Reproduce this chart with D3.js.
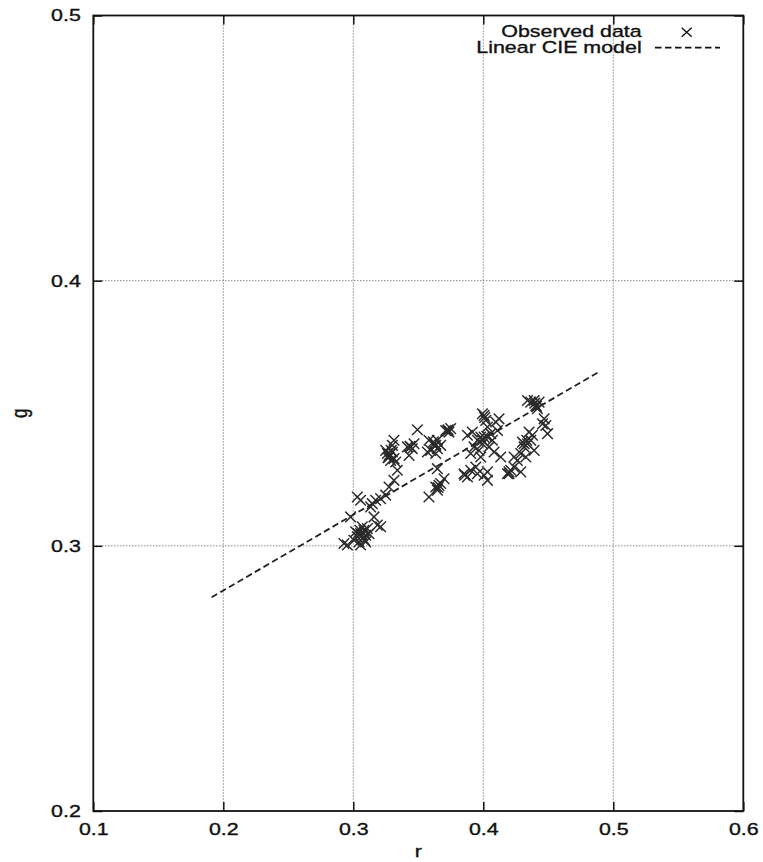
<!DOCTYPE html>
<html>
<head>
<meta charset="utf-8">
<script src="https://cdn.jsdelivr.net/npm/d3@7"></script>
<style>
  html, body { margin: 0; padding: 0; background: #fff; }
  svg { display: block; }
  text { font-family: "Liberation Sans", Arial, Helvetica, sans-serif; fill: #111; stroke: #111; stroke-width: 0.35px; }
</style>
</head>
<body>
<svg id="chart" width="763" height="862"></svg>
<script>
// ---- data ----
const xTicks = [0.1, 0.2, 0.3, 0.4, 0.5, 0.6];
const yTicks = [0.2, 0.3, 0.4, 0.5];
const xLabel = "r";
const yLabel = "g";
const legendLabels = ["Observed data", "Linear CIE model"];

const obsR = [
  0.2928, 0.2979, 0.3031, 0.3056, 0.3005, 0.3031, 0.3056, 0.3082, 0.3069, 0.3095,
  0.3044, 0.3108, 0.3018, 0.3077, 0.3056, 0.3159, 0.3185, 0.3210, 0.3133, 0.3172,
  0.3210, 0.3249, 0.3146, 0.2954, 0.3095, 0.3121,
  0.3275, 0.3313, 0.3339, 0.3326,
  0.3249, 0.3275, 0.3313, 0.3300, 0.3262, 0.3287, 0.3313, 0.3300, 0.3275,
  0.3429, 0.3416, 0.3454, 0.3467, 0.3441,
  0.3493,
  0.3582, 0.3621, 0.3647, 0.3672, 0.3570, 0.3595, 0.3634, 0.3647, 0.3634,
  0.3711, 0.3736, 0.3749, 0.3724,
  0.3647, 0.3634, 0.3672, 0.3698, 0.3582, 0.3647, 0.3659,
  0.3878, 0.3916, 0.3955, 0.3980, 0.4006, 0.4019, 0.4032, 0.4057, 0.4096, 0.4121,
  0.4109, 0.4070, 0.3929, 0.3967, 0.3993, 0.4044, 0.4083, 0.4134, 0.3903, 0.3980,
  0.4006, 0.3993,
  0.3852, 0.3878, 0.3903, 0.3955, 0.4006, 0.4032, 0.4032, 0.3942,
  0.4186, 0.4211, 0.4237, 0.4288, 0.4262, 0.4288, 0.4314, 0.4340, 0.4365, 0.4352,
  0.4378, 0.4391, 0.4327, 0.4237, 0.4301, 0.4198,
  0.4391, 0.4404, 0.4416, 0.4365, 0.4429, 0.4340,
  0.4468, 0.4481, 0.4494, 0.4455,
  0.3069, 0.3051, 0.3087, 0.3036,
  0.3282, 0.3267, 0.3292,
  0.3436,
  0.3626, 0.3616,
  0.3729,
  0.4011, 0.4027, 0.3993,
  0.4396, 0.4409,
  0.4314, 0.4334,
  0.4198,
  0.3857,
  0.3652
];
const obsG = [
  0.3009, 0.3109, 0.3184, 0.3172, 0.3021, 0.3034, 0.3046, 0.3059, 0.3072, 0.3040,
  0.3015, 0.3065, 0.3053, 0.3028, 0.3003, 0.3109, 0.3078, 0.3072, 0.3147, 0.3172,
  0.3178, 0.3191, 0.3159, 0.3003, 0.3015, 0.3046,
  0.3222, 0.3247, 0.3285, 0.3316,
  0.3360, 0.3335, 0.3329, 0.3354, 0.3348, 0.3322, 0.3398, 0.3379, 0.3341,
  0.3341, 0.3373, 0.3366, 0.3385, 0.3373,
  0.3438,
  0.3398, 0.3385, 0.3366, 0.3379, 0.3354, 0.3360, 0.3348, 0.3398, 0.3379,
  0.3435, 0.3429, 0.3442, 0.3433,
  0.3291, 0.3222, 0.3235, 0.3253, 0.3184, 0.3210, 0.3228,
  0.3417, 0.3429, 0.3398, 0.3410, 0.3492, 0.3473, 0.3448, 0.3423, 0.3467, 0.3479,
  0.3435, 0.3398, 0.3373, 0.3360, 0.3385, 0.3373, 0.3354, 0.3335, 0.3348, 0.3335,
  0.3410, 0.3498,
  0.3272, 0.3260, 0.3285, 0.3272, 0.3266, 0.3247, 0.3279, 0.3297,
  0.3272, 0.3285, 0.3297, 0.3279, 0.3322, 0.3348, 0.3373, 0.3385, 0.3398, 0.3429,
  0.3417, 0.3360, 0.3335, 0.3335, 0.3391, 0.3279,
  0.3548, 0.3529, 0.3517, 0.3542, 0.3542, 0.3548,
  0.3479, 0.3454, 0.3423, 0.3460,
  0.3040, 0.3059, 0.3021, 0.3046,
  0.3345, 0.3332, 0.3360,
  0.3375,
  0.3377, 0.3392,
  0.3438,
  0.3484, 0.3413, 0.3398,
  0.3538, 0.3526,
  0.3385, 0.3398,
  0.3272,
  0.3266,
  0.3220
];
const modelR = [0.191, 0.490];
const modelG = [0.2806, 0.3659];

// ---- layout ----
const svg = d3.select("#chart");
const pLeft = 93.3, pRight = 743.3, pTop = 15.5, pBottom = 811;
const x = d3.scaleLinear().domain([0.1, 0.6]).range([pLeft, pRight]);
const y = d3.scaleLinear().domain([0.2, 0.5]).range([pBottom, pTop]);
const fmt = d3.format(".1f");
const SX = 1.26; // horizontal stretch of the scanned lettering
const fontSize = 17;

// grid
const grid = svg.append("g").attr("stroke", "#555").attr("stroke-width", 1)
  .attr("stroke-dasharray", "1,2");
grid.selectAll("line.vx").data(xTicks.filter(d => d > 0.1 && d < 0.6)).join("line")
  .attr("x1", d => x(d)).attr("x2", d => x(d)).attr("y1", pTop).attr("y2", pBottom);
grid.selectAll("line.hy").data(yTicks.filter(d => d > 0.2 && d < 0.5)).join("line")
  .attr("y1", d => y(d)).attr("y2", d => y(d)).attr("x1", pLeft).attr("x2", pRight);

// axes (inward ticks)
const tick = 9;
const gx = svg.append("g").attr("transform", `translate(0,${pBottom})`)
  .call(d3.axisBottom(x).tickValues(xTicks).tickFormat(fmt).tickSize(-tick).tickPadding(12));
const gxt = svg.append("g").attr("transform", `translate(0,${pTop})`)
  .call(d3.axisTop(x).tickValues(xTicks).tickFormat("").tickSize(-tick));
const gy = svg.append("g").attr("transform", `translate(${pLeft},0)`)
  .call(d3.axisLeft(y).tickValues(yTicks).tickFormat(fmt).tickSize(-tick).tickPadding(12.5));
const gyr = svg.append("g").attr("transform", `translate(${pRight},0)`)
  .call(d3.axisRight(y).tickValues(yTicks).tickFormat("").tickSize(-tick));

[gx, gxt, gy, gyr].forEach(g => {
  g.select(".domain").remove();
  g.selectAll(".tick line").attr("stroke", "#111").attr("stroke-width", 1.5);
});
gx.selectAll(".tick text")
  .style("font-size", fontSize + "px").attr("fill", "#111")
  .attr("transform", `scale(${SX},1)`);
gy.selectAll(".tick text")
  .style("font-size", fontSize + "px").attr("fill", "#111")
  .attr("x", -12.5 / SX)
  .attr("transform", `scale(${SX},1)`);
svg.selectAll(".tick text").attr("font-family", "Liberation Sans, Arial, sans-serif");

// frame
svg.append("rect")
  .attr("x", pLeft).attr("y", pTop)
  .attr("width", pRight - pLeft).attr("height", pBottom - pTop)
  .attr("fill", "none").attr("stroke", "#111").attr("stroke-width", 1.8);

// axis titles
svg.append("text")
  .attr("transform", `translate(${(pLeft + pRight) / 2},857) scale(${SX},1)`)
  .attr("text-anchor", "middle").style("font-size", fontSize + "px")
  .text(xLabel);
svg.append("text")
  .attr("transform", `translate(27,${(pTop + pBottom) / 2}) rotate(-90) scale(1,${SX})`)
  .attr("text-anchor", "middle").style("font-size", fontSize + "px")
  .text(yLabel);

// model line
const line = d3.line().x(d => x(d[0])).y(d => y(d[1]));
svg.append("path")
  .datum(modelR.map((r, i) => [r, modelG[i]]))
  .attr("d", line)
  .attr("fill", "none").attr("stroke", "#222").attr("stroke-width", 1.8)
  .attr("stroke-dasharray", "6.5,3.5");

// observed points as crosses
const s = 5.3;
const cross = `M${-s},${-s}L${s},${s}M${-s},${s}L${s},${-s}`;
svg.append("g").selectAll("path")
  .data(obsR.map((r, i) => [r, obsG[i]]))
  .join("path")
  .attr("transform", d => `translate(${x(d[0])},${y(d[1])})`)
  .attr("d", cross)
  .attr("fill", "none").attr("stroke", "#2a2a2a").attr("stroke-width", 1.45);

// legend
const lx = 641.7;
svg.append("text")
  .attr("transform", `translate(${lx},37.3) scale(${SX},1)`)
  .attr("text-anchor", "end").style("font-size", fontSize + "px")
  .text(legendLabels[0]);
svg.append("text")
  .attr("transform", `translate(${lx},52.7) scale(${SX},1)`)
  .attr("text-anchor", "end").style("font-size", fontSize + "px")
  .text(legendLabels[1]);
svg.append("path")
  .attr("transform", "translate(686.7,32.3)")
  .attr("d", `M-5,-4.5L5,4.5M-5,4.5L5,-4.5`)
  .attr("fill", "none").attr("stroke", "#111").attr("stroke-width", 1.4);
svg.append("line")
  .attr("x1", 655).attr("x2", 720).attr("y1", 47.7).attr("y2", 47.7)
  .attr("stroke", "#111").attr("stroke-width", 1.8).attr("stroke-dasharray", "6.5,3.5");
</script>
</body>
</html>
